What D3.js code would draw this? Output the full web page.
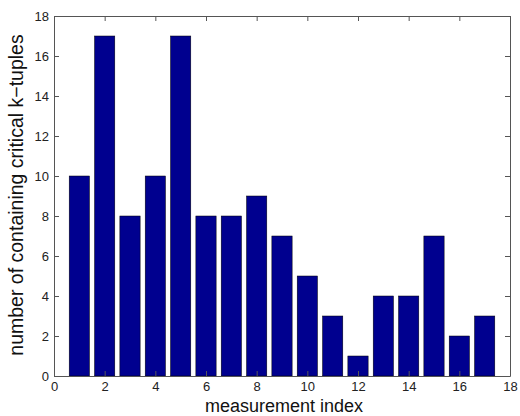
<!DOCTYPE html>
<html>
<head>
<meta charset="utf-8">
<script src="https://cdn.jsdelivr.net/npm/d3@7"></script>
<style>
  body { margin: 0; background: #fff; }
  text { font-family: "Liberation Sans", Arial, sans-serif; }
</style>
</head>
<body>
<div id="chart"></div>
<script>
// data
var indices = [1, 2, 3, 4, 5, 6, 7, 8, 9, 10, 11, 12, 13, 14, 15, 16, 17];
var counts = [10, 17, 8, 10, 17, 8, 8, 9, 7, 5, 3, 1, 4, 4, 7, 2, 3];
var xTicks = [0, 2, 4, 6, 8, 10, 12, 14, 16, 18];
var yTicks = [0, 2, 4, 6, 8, 10, 12, 14, 16, 18];

function init() {
    var width = 520;
    var height = 416;
    var left = 54, right = 510, top = 16, bottom = 376;

    var svg = d3.select("#chart")
                .append("svg")
                .attr("width", width)
                .attr("height", height);

    var xScale = d3.scaleLinear()
                   .domain([0, 18])
                   .range([left, right]);

    var yScale = d3.scaleLinear()
                   .domain([0, 18])
                   .range([bottom, top]);

    var barW = 0.8;

    // bars
    svg.selectAll("rect.bar")
        .data(counts)
        .enter()
        .append("rect")
        .attr("class", "bar")
        .attr("x", function(d, i) { return xScale(indices[i] - barW / 2); })
        .attr("y", function(d) { return yScale(d); })
        .attr("width", function() { return xScale(barW) - xScale(0); })
        .attr("height", function(d) { return yScale(0) - yScale(d); })
        .attr("fill", "#00008f")
        .attr("stroke", "#000")
        .attr("stroke-width", 0.5);

    // axes, ticks pointing inward like matlab
    var xAxis = d3.axisBottom(xScale).tickValues(xTicks).tickSizeInner(-5).tickSizeOuter(0).tickPadding(6);
    var yAxis = d3.axisLeft(yScale).tickValues(yTicks).tickSizeInner(-5).tickSizeOuter(0).tickPadding(5);
    var xTop = d3.axisTop(xScale).tickValues(xTicks).tickSizeInner(-5).tickSizeOuter(0).tickFormat("");
    var yRight = d3.axisRight(yScale).tickValues(yTicks).tickSizeInner(-5).tickSizeOuter(0).tickFormat("");

    svg.append("g").attr("transform", "translate(0," + bottom + ")").call(xAxis);
    svg.append("g").attr("transform", "translate(" + left + ",0)").call(yAxis);
    svg.append("g").attr("transform", "translate(0," + top + ")").call(xTop);
    svg.append("g").attr("transform", "translate(" + right + ",0)").call(yRight);

    svg.selectAll(".domain").attr("stroke", "#555");
    svg.selectAll(".tick line").attr("stroke", "#555");
    svg.selectAll(".tick text")
        .style("font-size", "13px")
        .attr("fill", "#222");

    // axis titles
    svg.append("text")
        .attr("x", (left + right) / 2 + 2)
        .attr("y", 412)
        .attr("text-anchor", "middle")
        .style("font-size", "18px")
        .attr("fill", "#111")
        .text("measurement index");

    svg.append("text")
        .attr("transform", "translate(23," + ((top + bottom) / 2 - 1) + ") rotate(-90)")
        .attr("text-anchor", "middle")
        .style("font-size", "19.5px")
        .attr("fill", "#111")
        .text("number of containing critical k\u2212tuples");
}

window.onload = init;
</script>
</body>
</html>
